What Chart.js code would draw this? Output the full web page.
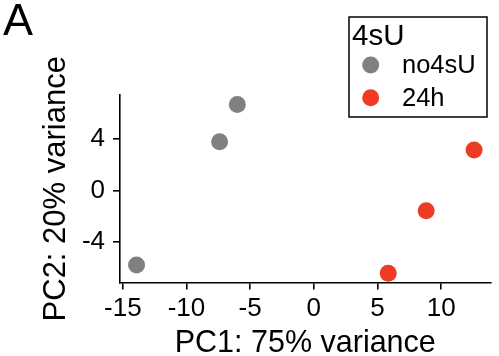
<!DOCTYPE html>
<html>
<head>
<meta charset="utf-8">
<script src="https://cdn.jsdelivr.net/npm/chart.js@4"></script>
<style>
  html, body { margin: 0; padding: 0; background: #fff; }
  canvas { display: block; }
</style>
</head>
<body>
<canvas id="pca" width="499" height="356"></canvas>
<script>
/* ------------ DATA ------------ */
const groupNames = ['no4sU', '24h'];
const no4sU_x = [-13.92, -7.40, -6.01];
const no4sU_y = [-5.77, 3.80, 6.70];
const h24_x = [12.58, 8.82, 5.84];
const h24_y = [3.16, -1.55, -6.42];
const xTicks = [-15, -10, -5, 0, 5, 10];
const yTicks = [-4, 0, 4];

/* ------------ STYLE ------------ */
const colors = ['#808080', '#EE3B23'];
const FONT = '"Liberation Sans", Arial, Helvetica, sans-serif';

const pts = (xs, ys) => xs.map((x, i) => ({ x, y: ys[i] }));

/* legend box + panel tag, drawn after the chart */
const extras = {
  id: 'extras',
  afterDraw(chart) {
    const ctx = chart.ctx;
    ctx.save();
    // panel tag
    ctx.fillStyle = '#000';
    ctx.font = `45px ${FONT}`;
    ctx.textAlign = 'left';
    ctx.textBaseline = 'alphabetic';
    ctx.fillText('A', 3, 35);

    // legend
    const box = { x: 349, y: 17, w: 138, h: 100 };
    ctx.fillStyle = '#fff';
    ctx.fillRect(box.x, box.y, box.w, box.h);
    ctx.strokeStyle = '#000';
    ctx.lineWidth = 1.5;
    ctx.strokeRect(box.x, box.y, box.w, box.h);

    ctx.fillStyle = '#000';
    ctx.font = `29.5px ${FONT}`;
    ctx.textBaseline = 'middle';
    ctx.fillText('4sU', 352, 37);

    ctx.font = `25.5px ${FONT}`;
    chart.data.datasets.forEach((ds, i) => {
      const cy = 65 + i * 32.7;
      ctx.beginPath();
      ctx.arc(370.7, cy, 8.5, 0, Math.PI * 2);
      ctx.fillStyle = ds.backgroundColor;
      ctx.fill();
      ctx.fillStyle = '#000';
      ctx.fillText(ds.label, 402, cy + 1);
    });
    ctx.restore();
  }
};

const axisCommon = {
  grid: { drawOnChartArea: false, drawTicks: true, tickLength: 7, color: '#000', lineWidth: 1.6 },
  border: { display: true, color: '#000', width: 1.6 }
};

new Chart(document.getElementById('pca'), {
  type: 'scatter',
  data: {
    datasets: [
      { label: groupNames[0], data: pts(no4sU_x, no4sU_y), backgroundColor: colors[0], borderWidth: 0, pointRadius: 8.5 },
      { label: groupNames[1], data: pts(h24_x, h24_y), backgroundColor: colors[1], borderWidth: 0, pointRadius: 8.5 }
    ]
  },
  options: {
    responsive: false,
    animation: false,
    devicePixelRatio: 1,
    layout: { padding: { left: 0, top: 95, right: 3, bottom: 0 } },
    plugins: { legend: { display: false }, tooltip: { enabled: false } },
    scales: {
      x: {
        ...axisCommon,
        type: 'linear',
        min: -15.22,
        max: 13.87,
        afterBuildTicks: s => { s.ticks = xTicks.map(v => ({ value: v })); },
        afterFit: s => { s.height = 73.5; },
        ticks: { color: '#000', font: { family: FONT, size: 26 }, padding: 4, maxRotation: 0, autoSkip: false },
        title: { display: true, text: 'PC1: 75% variance', color: '#000', font: { family: FONT, size: 30.5, lineHeight: '24px' }, padding: { top: 0, bottom: 0 } }
      },
      y: {
        ...axisCommon,
        type: 'linear',
        min: -7.13,
        max: 7.43,
        afterBuildTicks: s => { s.ticks = yTicks.map(v => ({ value: v })); },
        afterFit: s => { s.width = 120; },
        ticks: { color: '#000', font: { family: FONT, size: 26 }, padding: 8, autoSkip: false },
        title: { display: true, text: 'PC2: 20% variance', color: '#000', font: { family: FONT, size: 31, lineHeight: 1.2 }, padding: { top: 38, bottom: 0 } }
      }
    }
  },
  plugins: [extras]
});
</script>
</body>
</html>
